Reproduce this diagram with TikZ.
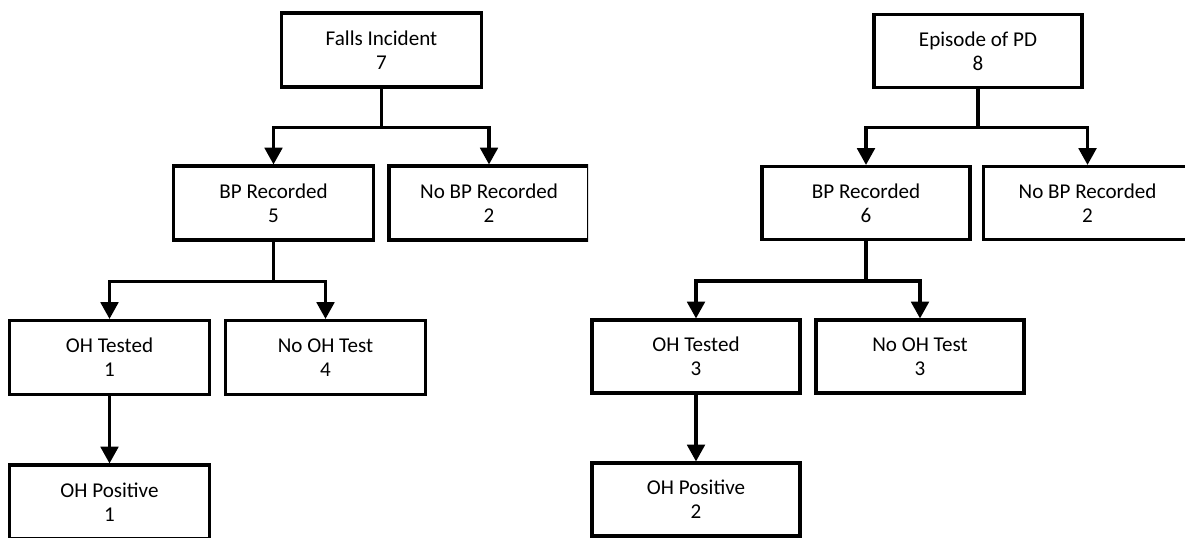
\documentclass[tikz,border=0pt]{standalone}
\usepackage{fontspec}
\setmainfont{Carlito}
\usetikzlibrary{arrows.meta}

\begin{document}
\begin{tikzpicture}[x=0.02cm, y=-0.02cm,
  box/.style={draw, line width=1.8pt, inner sep=0pt, align=center,
    font=\fontsize{12}{13.6}\selectfont},
  boxA/.style={box, minimum width=4cm, minimum height=1.48cm},
  boxB/.style={box, minimum width=4.16cm, minimum height=1.46cm},
  arr/.style={line width=1.8pt, -{Triangle[width=10pt,length=9.5pt]}}]
\useasboundingbox (0,0) rectangle (1185,537);
\clip (0,0) rectangle (1185,537);

\begin{scope}
\clip (0,0) rectangle (588,537);
\node[boxA] (fallsA) at (381.5,50) {Falls Incident\\7};
\node[boxA] (bpA) at (273.5,203) {BP Recorded\\5};
\node[boxA] (nobpA) at (489,203) {No BP Recorded\\2};
\node[boxA] (ohtA) at (109.5,357.5) {OH Tested\\1};
\node[boxA] (nohA) at (325.5,357.5) {No OH Test\\4};
\node[boxA] (ohpA) at (109.5,502) {OH Positive\\1};
\draw[arr] (fallsA.south) -- ++(0,39) -| (bpA.north);
\draw[arr] (fallsA.south) -- ++(0,39) -| (nobpA.north);
\draw[arr] (bpA.south) -- ++(0,40) -| (ohtA.north);
\draw[arr] (bpA.south) -- ++(0,40) -| (nohA.north);
\draw[arr] (ohtA.south) -- (ohpA.north);
\end{scope}

\node[boxB] (episodeB) at (978,51) {Episode of PD\\8};
\node[boxB] (bpB) at (866,203) {BP Recorded\\6};
\node[boxB] (nobpB) at (1087.5,203) {No BP Recorded\\2};
\node[boxB] (ohtB) at (696,356.5) {OH Tested\\3};
\node[boxB] (nohB) at (920,356.5) {No OH Test\\3};
\node[boxB] (ohpB) at (696,499.5) {OH Positive\\2};
\draw[arr] (episodeB.south) -- ++(0,38.5) -| (bpB.north);
\draw[arr] (episodeB.south) -- ++(0,38.5) -| (nobpB.north);
\draw[arr] (bpB.south) -- ++(0,40) -| (ohtB.north);
\draw[arr] (bpB.south) -- ++(0,40) -| (nohB.north);
\draw[arr] (ohtB.south) -- (ohpB.north);
\end{tikzpicture}
\end{document}
